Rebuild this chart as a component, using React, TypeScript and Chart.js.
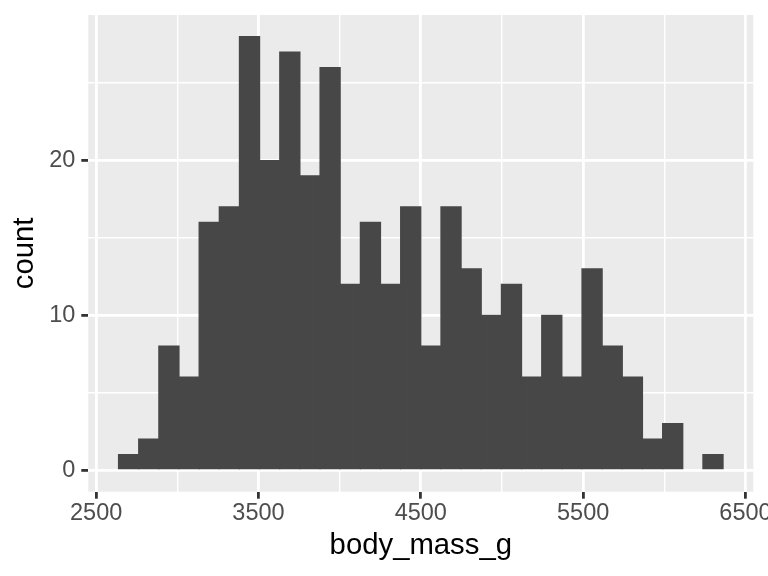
import React, { useEffect, useRef } from "react";
import { Chart, registerables } from "chart.js";

Chart.register(...registerables);

// Histogram bins (30 bins, centers) and counts for body_mass_g
const binCenters = [
  2700.0, 2824.14, 2948.28, 3072.41, 3196.55, 3320.69, 3444.83, 3568.97, 3693.1, 3817.24,
  3941.38, 4065.52, 4189.66, 4313.79, 4437.93, 4562.07, 4686.21, 4810.34, 4934.48, 5058.62,
  5182.76, 5306.9, 5431.03, 5555.17, 5679.31, 5803.45, 5927.59, 6051.72, 6175.86, 6300.0,
];
const counts = [
  1, 2, 8, 6, 16, 17, 28, 20, 27, 19,
  26, 12, 16, 12, 17, 8, 17, 13, 10, 12,
  6, 10, 6, 13, 8, 6, 2, 3, 0, 1,
];
const xTicks = [2500, 3000, 3500, 4000, 4500, 5000, 5500, 6000, 6500];
const xMajor = [2500, 3500, 4500, 5500, 6500];
const yTicks = [0, 5, 10, 15, 20, 25];
const yMajor = [0, 10, 20];

const FONT = "'Liberation Sans', Arial, Helvetica, sans-serif";

const panelBg = {
  id: "panelBg",
  beforeDraw(chart: any) {
    const { ctx, chartArea: a } = chart;
    ctx.save();
    ctx.fillStyle = "#EBEBEB";
    ctx.fillRect(a.left, a.top, a.right - a.left, a.bottom - a.top);
    ctx.restore();
  },
};

function gridFor(majors: number[]) {
  const isMajor = (ctx: any) => ctx.tick && majors.includes(ctx.tick.value);
  return {
    color: "#FFFFFF",
    lineWidth: (ctx: any) => (isMajor(ctx) ? 2.8 : 1.4),
    drawTicks: true,
    tickLength: 7,
    tickColor: (ctx: any) => (isMajor(ctx) ? "#333333" : "rgba(0,0,0,0)"),
    tickWidth: (ctx: any) => (isMajor(ctx) ? 2.8 : 1),
    offset: false,
  };
}

export default function App() {
  const ref = useRef<HTMLCanvasElement | null>(null);

  useEffect(() => {
    if (!ref.current) return;
    const data = binCenters.map((x, i) => ({ x, y: counts[i] }));
    const chart = new Chart(ref.current, {
      type: "bar",
      data: {
        datasets: [
          {
            data: data as any,
            backgroundColor: "#474747",
            borderWidth: 0,
            barPercentage: 1,
            categoryPercentage: 1,
            inflateAmount: (ctx: any) => (ctx.raw && ctx.raw.y > 0 ? 0.6 : 0),
          } as any,
        ],
      },
      plugins: [panelBg],
      options: {
        animation: false,
        responsive: false,
        maintainAspectRatio: false,
        layout: { padding: { top: 15, right: 14.7, left: 0, bottom: 0 } },
        plugins: {
          legend: { display: false },
          tooltip: { enabled: false },
        },
        scales: {
          x: {
            type: "linear",
            min: 2451.7,
            max: 6548.3,
            bounds: "data",
            offset: false,
            grid: gridFor(xMajor) as any,
            border: { display: false },
            afterBuildTicks: (scale: any) => {
              scale.ticks = xTicks.map((v) => ({ value: v }));
            },
            afterFit: (scale: any) => {
              scale.height = 84.3;
              scale.paddingLeft = 0;
              scale.paddingRight = 0;
            },
            ticks: {
              autoSkip: false,
              maxRotation: 0,
              padding: 1,
              color: "#4D4D4D",
              font: { family: FONT, size: 23.5 },
              callback: (v: any) => (xMajor.includes(Number(v)) ? String(v) : ""),
            },
            title: {
              display: true,
              text: "body_mass_g",
              color: "#000000",
              font: { family: FONT, size: 29.3 },
              padding: { top: 0, bottom: 12.7 },
            },
          },
          y: {
            type: "linear",
            min: -1.4,
            max: 29.4,
            bounds: "data",
            grid: gridFor(yMajor) as any,
            border: { display: false },
            afterBuildTicks: (scale: any) => {
              scale.ticks = yTicks.map((v) => ({ value: v }));
            },
            afterFit: (scale: any) => {
              scale.width = 88.3;
              scale.paddingTop = 0;
              scale.paddingBottom = 0;
            },
            ticks: {
              autoSkip: false,
              padding: 6,
              color: "#4D4D4D",
              font: { family: FONT, size: 23.5 },
              callback: (v: any) => (yMajor.includes(Number(v)) ? String(v) : ""),
            },
            title: {
              display: true,
              text: "count",
              color: "#000000",
              font: { family: FONT, size: 29.3 },
              padding: { top: 7, bottom: 0 },
            },
          },
        },
      },
    });
    return () => chart.destroy();
  }, []);

  return (
    <div style={{ position: "absolute", left: 0, top: 0, width: 768, height: 576, background: "#FFFFFF" }}>
      <canvas ref={ref} width={768} height={576} style={{ width: 768, height: 576, display: "block" }} />
    </div>
  );
}
